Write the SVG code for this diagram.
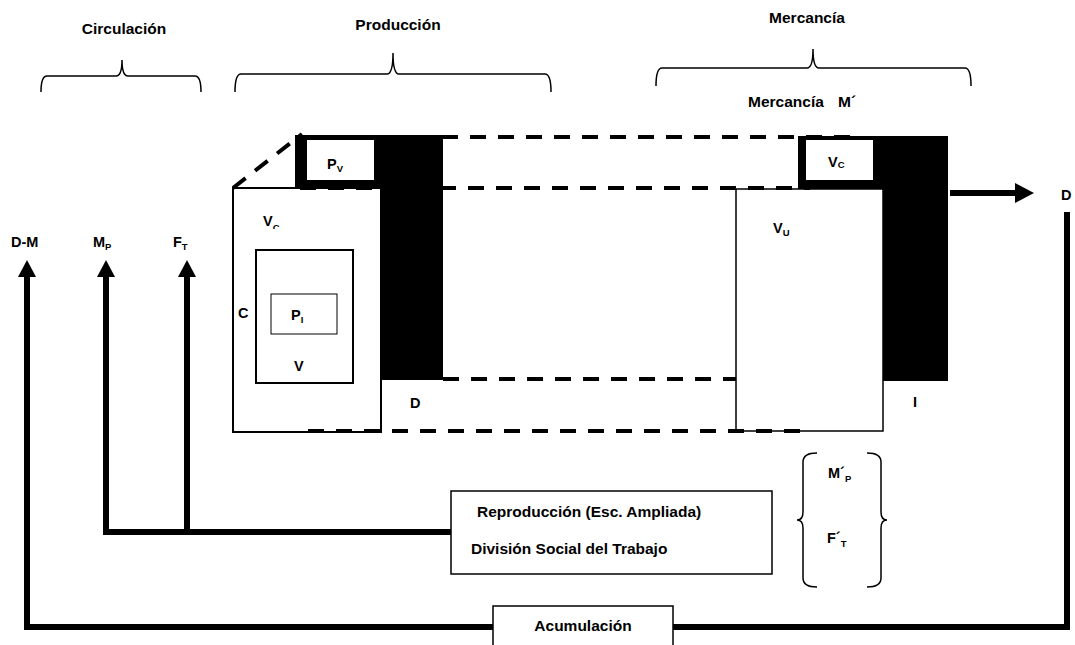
<svg xmlns="http://www.w3.org/2000/svg" width="1075" height="645" viewBox="0 0 1075 645">
  <style>
    text { font-family: "Liberation Sans", Arial, sans-serif; font-weight: bold; fill: #000; }
    .big { font-size: 15.5px; }
    .lbl { font-size: 14.5px; }
    .sub { font-size: 9.5px; }
    .brace { fill: none; stroke: #000; stroke-width: 1.5; }
    .dash { fill: none; stroke: #000; stroke-width: 4; stroke-dasharray: 16 12; }
    .box { fill: #fff; stroke: #000; }
    .wire { fill: none; stroke: #000; stroke-width: 6; stroke-linejoin: miter; }
  </style>
  <defs>
    <clipPath id="vcClip"><rect x="255" y="200" width="40" height="29"/></clipPath>
  </defs>
  <rect width="1075" height="645" fill="#fff"/>

  <!-- section headings with braces -->
  <g id="circulacion">
    <text class="big" x="124" y="34" text-anchor="middle">Circulación</text>
    <path class="brace" d="M41,92 Q41,76 47,76 L116,76 Q122,76 122,60 Q122,76 128,76 L195,76 Q201,76 201,92"/>
  </g>
  <g id="produccion">
    <text class="big" x="398" y="30" text-anchor="middle">Producción</text>
    <path class="brace" d="M235,92 Q235,74 241,74 L387,74 Q393,74 393,53 Q393,74 399,74 L545,74 Q551,74 551,92"/>
  </g>
  <g id="mercancia">
    <text class="big" x="807" y="23" text-anchor="middle">Mercancía</text>
    <path class="brace" d="M656,86 Q656,68 662,68 L807,68 Q813,68 813,49 Q813,68 819,68 L965,68 Q971,68 971,86"/>
    <text class="big" x="748" y="107">Mercancía<tspan x="838">M´</tspan></text>
  </g>

  <!-- production block (left) -->
  <g id="produccion-bloque">
    <rect x="295" y="135" width="148" height="245" fill="#000"/>
    <rect x="307" y="140" width="67" height="40" fill="#fff"/>
    <text class="lbl" x="327" y="169">P<tspan class="sub" dy="3">V</tspan></text>
    <rect class="box" x="233" y="188" width="148" height="244" stroke-width="2"/>
    <g clip-path="url(#vcClip)">
      <text class="lbl" x="263" y="226">V<tspan class="sub" dy="5">C</tspan></text>
    </g>
    <rect class="box" x="256" y="250" width="97" height="133" stroke-width="2"/>
    <rect class="box" x="271" y="294" width="66" height="40" stroke-width="1"/>
    <text class="lbl" x="238" y="318">C</text>
    <text class="lbl" x="291" y="320">P<tspan class="sub" dy="3">I</tspan></text>
    <text class="lbl" x="294" y="371">V</text>
    <text class="lbl" x="410" y="408">D</text>
  </g>

  <!-- commodity block (right) -->
  <g id="mercancia-bloque">
    <rect x="798" y="136" width="150" height="245" fill="#000"/>
    <rect x="806" y="140" width="67" height="40" fill="#fff"/>
    <text class="lbl" x="828" y="167">V<tspan class="sub" dy="1">C</tspan></text>
    <rect class="box" x="736" y="189" width="147" height="242" stroke-width="1.5"/>
    <text class="lbl" x="773" y="233">V<tspan class="sub" dy="3">U</tspan></text>
    <text class="lbl" x="913" y="407">I</text>
  </g>

  <!-- dashed perspective edges joining the blocks -->
  <g id="perspectiva">
    <line class="dash" x1="233" y1="188" x2="302" y2="134"/>
    <line class="dash" x1="302" y1="137" x2="862" y2="137"/>
    <line class="dash" x1="300" y1="188" x2="810" y2="188"/>
    <line class="dash" x1="443" y1="379" x2="736" y2="379"/>
    <line class="dash" x1="308" y1="431" x2="800" y2="431"/>
  </g>

  <!-- circulation labels -->
  <g id="etiquetas-circulacion">
    <text class="lbl" x="11" y="247">D-M</text>
    <text class="lbl" x="93" y="247">M<tspan class="sub" dy="3">P</tspan></text>
    <text class="lbl" x="173" y="247">F<tspan class="sub" dy="3">T</tspan></text>
    <text class="lbl" x="1061" y="200">D</text>
  </g>

  <g id="reproduccion">
    <rect class="box" x="451" y="491" width="321" height="83" stroke-width="1.5"/>
    <text class="big" x="477" y="517">Reproducción (Esc. Ampliada)</text>
    <text class="big" x="471" y="554">División Social del Trabajo</text>
  </g>

  <g id="nuevos-medios">
    <path class="brace" d="M817,453 Q803,453 803,462 L803,512 Q803,520 797,520 Q803,520 803,528 L803,578 Q803,587 817,587"/>
    <path class="brace" d="M867,453 Q881,453 881,462 L881,512 Q881,520 887,520 Q881,520 881,528 L881,578 Q881,587 867,587"/>
    <text class="lbl" x="828" y="478">M´<tspan class="sub" dy="4">P</tspan></text>
    <text class="lbl" x="827" y="543">F´<tspan class="sub" dy="4">T</tspan></text>
  </g>

  <g id="acumulacion">
    <rect class="box" x="493" y="606" width="180" height="50" stroke-width="1.5"/>
    <text class="big" x="583" y="631" text-anchor="middle">Acumulación</text>
  </g>

  <!-- connectors -->
  <g id="conectores">
    <polyline class="wire" points="106,276 106,532 451,532"/>
    <line class="wire" x1="187" y1="276" x2="187" y2="532"/>
    <polyline class="wire" points="27,276 27,627 493,627"/>
    <polyline class="wire" points="673,627 1067,627 1067,212"/>
    <polygon points="18,277 27,260 36,277" fill="#000"/>
    <polygon points="97,277 106,260 115,277" fill="#000"/>
    <polygon points="178,277 187,260 196,277" fill="#000"/>
    <line class="wire" x1="950" y1="193" x2="1016" y2="193"/>
    <polygon points="1015,183 1034,193 1015,203" fill="#000"/>
  </g>
</svg>
